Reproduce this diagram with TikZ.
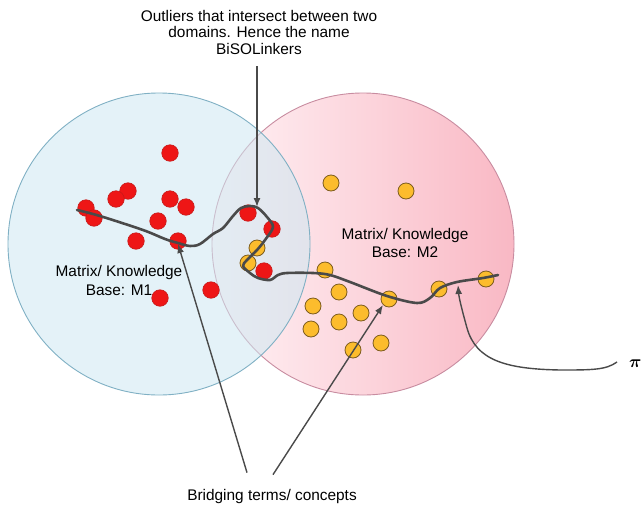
\documentclass[tikz,border=0pt]{standalone}
\usepackage{fontspec}
\setmainfont{Liberation Sans}
\usetikzlibrary{arrows.meta}
\definecolor{setblue}{RGB}{205,232,242}
\definecolor{setblueline}{RGB}{128,176,196}
\definecolor{setpinkL}{RGB}{255,242,245}
\definecolor{setpinkR}{RGB}{249,184,196}
\definecolor{setpinkline}{RGB}{200,140,160}
\definecolor{dotred}{RGB}{238,22,22}
\definecolor{dotredline}{RGB}{200,25,25}
\definecolor{dotyellow}{RGB}{252,188,45}
\definecolor{dotyellowline}{RGB}{125,92,30}
\definecolor{linegray}{RGB}{74,74,74}

\tikzset{
  reddot/.style={circle, fill=dotred, draw=dotredline, line width=0.6pt, minimum size=16.5pt, inner sep=0pt},
  yellowdot/.style={circle, fill=dotyellow, draw=dotyellowline, line width=0.8pt, minimum size=16pt, inner sep=0pt},
  notetext/.style={align=center, inner sep=0pt, font=\fontsize{15.4}{16.5}\selectfont},
  pointer/.style={line width=1.4pt, draw=linegray, -{Latex[length=9pt,width=7pt]}},
  trail/.style={line width=2.6pt, draw=linegray, line cap=round, line join=round},
}

\begin{document}
\begin{tikzpicture}[x=1pt, y=-1pt]
    \useasboundingbox (0,0) rectangle (642,509);

    % knowledge base M2
    \shade[left color=setpinkL, right color=setpinkR] (363,244) circle (151);
    \draw[setpinkline, line width=0.9pt] (363,244) circle (151);
    % knowledge base M1
    \fill[setblue, fill opacity=0.55] (159,244) circle (151);
    \draw[setblueline, line width=0.9pt] (159,244) circle (151);

    \node[notetext, font=\fontsize{15.4}{19}\selectfont] (m1) at (119,280) {Matrix/ Knowledge\\Base: M1};
    \node[notetext, font=\fontsize{15.4}{18}\selectfont] (m2) at (405,243) {Matrix/ Knowledge\\Base: M2};

    % terms of M1
    \foreach \x/\y [count=\i] in {170/153, 128/191, 116/199, 170/199, 186/207, 86/208, 94/218, 158/221,
        136/241, 178/241, 248/213, 272/229, 264/271, 211/290, 160/298}
        \node[reddot] (r\i) at (\x,\y) {};
    % terms of M2
    \foreach \x/\y [count=\i] in {331/183, 406/191, 257/248, 248/263, 325/270, 339/292, 313/306, 361/313,
        389/299, 439/289, 486/279, 311/329, 339/322, 381/343, 353/350}
        \node[yellowdot] (y\i) at (\x,\y) {};

    % linking path through both bases
    \draw[trail] plot[smooth, tension=0.55] coordinates {
        (77,210) (100,216) (143,230) (165,239) (178,243) (190,246) (200,244) (213,234)
        (223,228) (233,216) (241,208) (250,206) (258,208) (267,217) (273,227) (265,240)
        (257,250) (247,260) (243,266) (250,273) (258,278) (270,280) (278,275) (287,273)
        (313,273) (330,275) (350,282) (387,296) (417,303) (430,298) (440,288) (457,282)
        (483,278) (498,275)};

    % arrow tips on the path
    \coordinate (hitTop) at (257,207);
    \coordinate (hitLeft) at (178,244);
    \coordinate (hitMid) at (383,305);
    \coordinate (hitRight) at (458,285);

    % outliers
    \node[notetext] (outliers) at (259,32) {Outliers that intersect between two\\domains. Hence the name\\BiSOLinkers};
    \draw[pointer] ([yshift=-12pt]outliers.south -| hitTop) -- (hitTop);

    % bridging terms
    \node[notetext] (bridging) at (272,497) {Bridging terms/ concepts};
    \draw[pointer] ([xshift=-25pt, yshift=17pt]bridging.north) -- (hitLeft);
    \draw[pointer] ([xshift=1pt, yshift=15pt]bridging.north) -- (hitMid);

    % pi
    \node[anchor=west, inner sep=0pt, font=\fontsize{19}{19}\selectfont\boldmath] (pi) at (629,364) {$\pi$};
    \draw[pointer] ([xshift=-12pt, yshift=2pt]pi.west) .. controls (606,370) and (592,370) .. (560,370)
        .. controls (505,369) and (476,360) .. (467,328) .. controls (462,310) and (459,298) .. (hitRight);
\end{tikzpicture}
\end{document}
